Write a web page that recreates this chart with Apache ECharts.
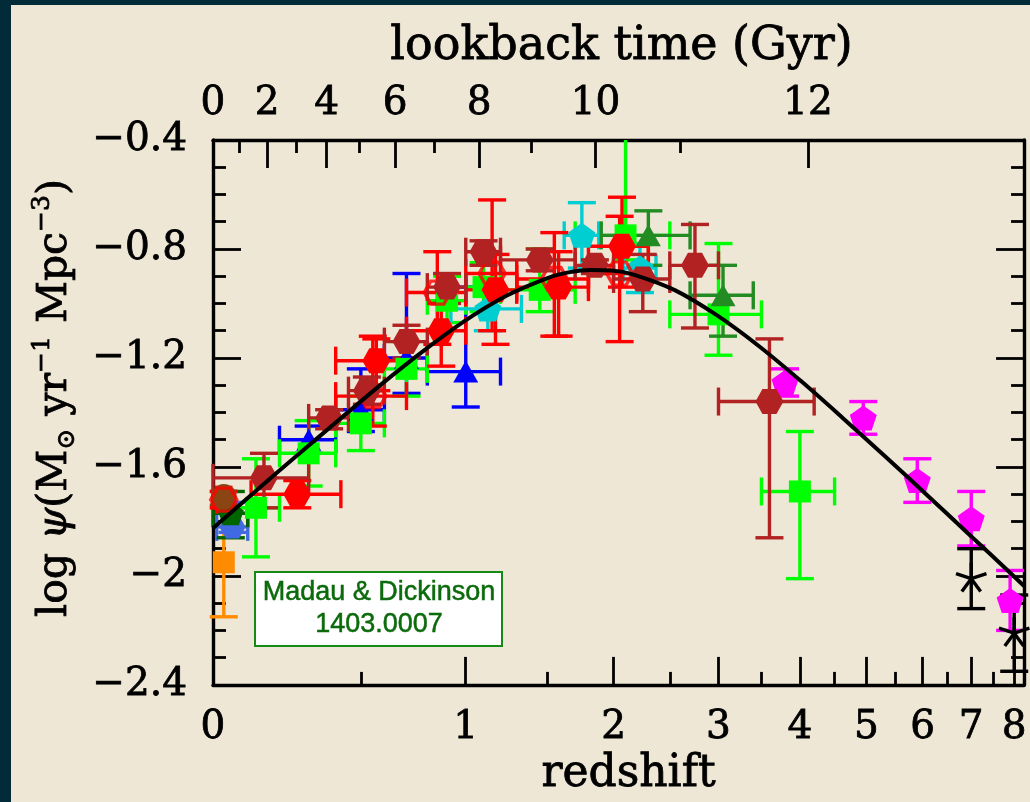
<!DOCTYPE html>
<html>
<head>
<meta charset="utf-8">
<script src="https://cdn.jsdelivr.net/npm/echarts@6/dist/echarts.min.js"></script>
<style>
  html, body { margin: 0; padding: 0; background: #EEE7D6; }
  #chart { width: 1030px; height: 802px; }
</style>
</head>
<body>
<div id="chart"></div>
<script>
// Each row: [z, zLow, zHigh, log psi, errUp, errDown]
const wyder = [[0.055, 0.01, 0.1, -1.82, 0.09, 0.02]];
const robothamDriver = [[0.05, 0.0, 0.1, -1.77, 0.08, 0.09]];
const schiminovich = [
  [0.3, 0.2, 0.4, -1.50, 0.05, 0.05],
  [0.5, 0.4, 0.6, -1.39, 0.15, 0.08],
  [0.7, 0.6, 0.8, -1.20, 0.31, 0.13],
  [1.0, 0.8, 1.2, -1.25, 0.31, 0.13]
];
const cucciati = [
  [0.125, 0.05, 0.2, -1.75, 0.18, 0.18],
  [0.3, 0.2, 0.4, -1.55, 0.12, 0.12],
  [0.5, 0.4, 0.6, -1.44, 0.10, 0.10],
  [0.7, 0.6, 0.8, -1.24, 0.10, 0.10],
  [0.9, 0.8, 1.0, -0.99, 0.09, 0.08],
  [1.1, 1.0, 1.2, -0.94, 0.09, 0.09],
  [1.45, 1.2, 1.7, -0.95, 0.15, 0.08],
  [2.1, 1.7, 2.5, -0.75, 0.49, 0.09],
  [3.0, 2.5, 3.5, -1.04, 0.26, 0.15],
  [4.0, 3.5, 4.5, -1.69, 0.22, 0.32]
];
const dahlen = [
  [1.125, 0.92, 1.33, -1.02, 0.08, 0.08],
  [1.75, 1.62, 1.88, -0.75, 0.12, 0.12],
  [2.225, 2.08, 2.37, -0.87, 0.09, 0.09]
];
const reddySteidel = [
  [2.3, 1.9, 2.7, -0.75, 0.09, 0.11],
  [3.05, 2.7, 3.4, -0.97, 0.11, 0.15]
];
const bouwens = [
  [3.8, 3.8, 3.8, -1.29, 0.05, 0.05],
  [4.95, 4.95, 4.95, -1.42, 0.06, 0.06],
  [5.9, 5.9, 5.9, -1.65, 0.08, 0.08],
  [7.0, 7.0, 7.0, -1.79, 0.10, 0.10],
  [7.9, 7.9, 7.9, -2.09, 0.11, 0.11]
];
const schenker = [
  [7.0, 7.0, 7.0, -2.01, 0.11, 0.11],
  [8.0, 8.0, 8.0, -2.21, 0.14, 0.14]
];
const sanders = [[0.03, 0.03, 0.03, -1.71, 0.02, 0.03]];
const takeuchi = [[0.03, 0.03, 0.03, -1.95, 0.20, 0.20]];
const magnelli11 = [
  [0.03, 0.01, 0.05, -1.72, 0.03, 0.03],
  [0.55, 0.4, 0.7, -1.34, 0.22, 0.11],
  [0.85, 0.7, 1.0, -0.96, 0.15, 0.19],
  [1.15, 1.0, 1.3, -0.89, 0.27, 0.21],
  [1.55, 1.3, 1.8, -0.91, 0.17, 0.21],
  [2.05, 1.8, 2.3, -0.89, 0.21, 0.25]
];
const magnelli13 = [
  [0.26, 0.11, 0.42, -1.70, 0.05, 0.05],
  [0.565, 0.4, 0.7, -1.21, 0.08, 0.11],
  [0.87, 0.7, 1.0, -1.10, 0.10, 0.13],
  [1.17, 1.0, 1.3, -0.95, 0.13, 0.20],
  [1.58, 1.3, 1.8, -0.94, 0.13, 0.18],
  [2.07, 1.8, 2.3, -0.79, 0.18, 0.15]
];
const gruppioni = [
  [0.15, 0.0, 0.3, -1.64, 0.09, 0.11],
  [0.375, 0.3, 0.45, -1.42, 0.03, 0.04],
  [0.525, 0.45, 0.6, -1.32, 0.05, 0.05],
  [0.7, 0.6, 0.8, -1.14, 0.06, 0.06],
  [0.9, 0.8, 1.0, -0.94, 0.05, 0.06],
  [1.1, 1.0, 1.2, -0.81, 0.04, 0.05],
  [1.45, 1.2, 1.7, -0.84, 0.04, 0.04],
  [1.85, 1.7, 2.0, -0.86, 0.02, 0.03],
  [2.25, 2.0, 2.5, -0.91, 0.09, 0.12],
  [2.75, 2.5, 3.0, -0.86, 0.15, 0.23],
  [3.6, 3.0, 4.2, -1.36, 0.23, 0.50]
];

// Best-fit cosmic star-formation history: [z, log psi]
const fitCurve = [
  [0, -1.825], [0.122, -1.691], [0.259, -1.558], [0.413, -1.427], [0.585, -1.298],
  [0.778, -1.176], [0.995, -1.064], [1.239, -0.971], [1.512, -0.905], [1.660, -0.885],
  [1.818, -0.877], [1.985, -0.879], [2.162, -0.893], [2.548, -0.951], [2.981, -1.043],
  [3.467, -1.156], [4.012, -1.284], [4.623, -1.420], [5.310, -1.560], [6.079, -1.702],
  [6.943, -1.846], [7.913, -1.990], [8.247, -2.037]
];

// Axis ticks
const redshiftMajor = [0, 1, 2, 3, 4, 5, 6, 7, 8];
const redshiftMinor = [0.5, 1.5, 2.5, 3.5, 4.5, 5.5, 6.5, 7.5];
const lookbackMajor = [0, 2, 4, 6, 8, 10, 12];
const lookbackMinor = [1, 3, 5, 7, 9, 11];

const Y_MIN = -2.4, Y_MAX = -0.4;
const U_MAX = 0.966;               // log10(1+z) at the right edge
const U = z => Math.log10(1 + z);

// Lookback time (Gyr) for flat LCDM, H0 = 70, Om = 0.3
const H0 = 70, OM = 0.3, OL = 0.7, T_H = 977.8 / H0;
function lookback(z) {
  const n = 400, h = z / n;
  const f = x => 1 / ((1 + x) * Math.sqrt(OM * Math.pow(1 + x, 3) + OL));
  let s = f(0) + f(z);
  for (let i = 1; i < n; i++) s += (i % 2 ? 4 : 2) * f(i * h);
  return T_H * s * h / 3;
}
function zAtLookback(t) {
  if (t <= 0) return 0;
  let lo = 0, hi = 30;
  for (let k = 0; k < 60; k++) {
    const mid = 0.5 * (lo + hi);
    if (lookback(mid) < t) lo = mid; else hi = mid;
  }
  return 0.5 * (lo + hi);
}
const lookMajorU = lookbackMajor.map(t => U(zAtLookback(t)));
const lookMinorU = lookbackMinor.map(t => U(zAtLookback(t)));

const SERIF = '"DejaVu Serif", serif';
const TICK_W = 2.8;
const BAR_W = 3.4;

function errorBars(rows, color) {
  return {
    type: 'custom',
    silent: true,
    animation: false,
    data: rows.map(r => [U(r[0]), r[3], U(r[1]), U(r[2]), r[3] - r[5], r[3] + r[4]]),
    encode: { x: 0, y: 1 },
    renderItem: (params, api) => {
      const x = api.value(0), y = api.value(1);
      const c = api.coord([x, y]);
      const vLo = api.value(4), vHi = api.value(5);
      const lo = api.coord([x, Math.max(vLo, Y_MIN)]);
      const hi = api.coord([x, Math.min(vHi, Y_MAX)]);
      const l = api.coord([api.value(2), y]);
      const r = api.coord([api.value(3), y]);
      const st = { stroke: color, lineWidth: BAR_W };
      const cap = 14;
      const ch = [];
      ch.push({ type: 'line', shape: { x1: c[0], y1: lo[1], x2: c[0], y2: hi[1] }, style: st });
      if (vHi <= Y_MAX) ch.push({ type: 'line', shape: { x1: c[0] - cap, y1: hi[1], x2: c[0] + cap, y2: hi[1] }, style: st });
      if (vLo >= Y_MIN) ch.push({ type: 'line', shape: { x1: c[0] - cap, y1: lo[1], x2: c[0] + cap, y2: lo[1] }, style: st });
      if (r[0] - l[0] > 2) {
        ch.push({ type: 'line', shape: { x1: l[0], y1: c[1], x2: r[0], y2: c[1] }, style: st });
        ch.push({ type: 'line', shape: { x1: l[0], y1: c[1] - cap, x2: l[0], y2: c[1] + cap }, style: st });
        ch.push({ type: 'line', shape: { x1: r[0], y1: c[1] - cap, x2: r[0], y2: c[1] + cap }, style: st });
      }
      return { type: 'group', children: ch };
    }
  };
}

const HEX = 'path://M-1,0 L-0.5,-0.866 L0.5,-0.866 L1,0 L0.5,0.866 L-0.5,0.866 Z';
const PENT = 'path://M0,-1 L0.951,-0.309 L0.588,0.809 L-0.588,0.809 L-0.951,-0.309 Z';
const TRI = 'path://M0,-1 L0.866,0.5 L-0.866,0.5 Z';

function markers(rows, symbol, size, color, open) {
  return {
    type: 'scatter',
    silent: true,
    animation: false,
    symbol: symbol,
    symbolSize: size,
    data: rows.map(r => [U(r[0]), r[3]]),
    itemStyle: open
      ? { color: 'rgba(0,0,0,0)', borderColor: color, borderWidth: 3.4 }
      : { color: color, opacity: 1 }
  };
}

function asterisks(rows, color) {
  return {
    type: 'custom',
    silent: true,
    animation: false,
    data: rows.map(r => [U(r[0]), r[3]]),
    encode: { x: 0, y: 1 },
    renderItem: (params, api) => {
      const c = api.coord([api.value(0), api.value(1)]);
      const len = 16, ch = [];
      for (let k = 0; k < 5; k++) {
        const a = (90 + 72 * k) * Math.PI / 180;
        ch.push({ type: 'line', shape: { x1: c[0], y1: c[1], x2: c[0] + len * Math.cos(a), y2: c[1] - len * Math.sin(a) },
                  style: { stroke: color, lineWidth: BAR_W } });
      }
      return { type: 'group', children: ch };
    }
  };
}

const series = [
  errorBars(takeuchi, '#FF8C00'), markers(takeuchi, 'rect', [22, 22], '#FF8C00'),
  errorBars(wyder, '#4169E1'), markers(wyder, HEX, [26, 23], '#4169E1'),
  errorBars(robothamDriver, '#006400'), markers(robothamDriver, PENT, [26, 24], '#006400'),
  errorBars(sanders, '#8B4513'), markers(sanders, 'circle', 26, '#8B4513'),
  errorBars(schiminovich, '#0000FF'), markers(schiminovich, TRI, [25, 22], '#0000FF'),
  errorBars(cucciati, '#00FF00'), markers(cucciati, 'rect', [22, 22], '#00FF00'),
  errorBars(dahlen, '#00CED1'), markers(dahlen, PENT, [27, 25], '#00CED1'),
  errorBars(reddySteidel, '#228B22'), markers(reddySteidel, TRI, [25, 22], '#228B22'),
  errorBars(bouwens, '#FF00FF'), markers(bouwens, PENT, [27, 25], '#FF00FF'),
  errorBars(schenker, '#000000'), asterisks(schenker, '#000000'),
  errorBars(magnelli11, '#FF0000'), markers(magnelli11, HEX, [26, 23], '#FF0000', true),
  errorBars(magnelli13, '#FF0000'), markers(magnelli13, HEX, [28, 25], '#FF0000'),
  errorBars(gruppioni, '#B22222'), markers(gruppioni, HEX, [28, 25], '#B22222'),
  {
    type: 'line',
    silent: true,
    animation: false,
    showSymbol: false,
    smooth: 0.35,
    data: fitCurve.map(p => [U(p[0]), p[1]]),
    lineStyle: { color: '#000000', width: 4 },
    z: 5
  }
];

const axisLine = { show: true, onZero: false, lineStyle: { color: '#000', width: 3.4 } };
const labelFont = { color: '#000', fontFamily: SERIF, fontSize: 39, textBorderColor: '#000', textBorderWidth: 0.8 };

function xAx(pos, ticks, len, labels, margin) {
  return {
    type: 'value', position: pos, min: 0, max: U_MAX,
    axisLine: labels ? axisLine : { show: false },
    splitLine: { show: false },
    axisTick: { show: true, inside: true, length: len, customValues: ticks, lineStyle: { color: '#000', width: TICK_W } },
    axisLabel: labels ? Object.assign({ show: true, customValues: ticks, formatter: labels, margin: margin }, labelFont)
                      : { show: false }
  };
}

const xAxes = [
  xAx('bottom', redshiftMajor.map(U), 28, v => {
    const i = redshiftMajor.findIndex(z => Math.abs(U(z) - v) < 1e-6);
    return i >= 0 ? String(redshiftMajor[i]) : '';
  }, 23),
  xAx('bottom', redshiftMinor.map(U), 13, null),
  xAx('top', lookMajorU, 28, v => {
    const i = lookMajorU.findIndex(u => Math.abs(u - v) < 1e-6);
    return i >= 0 ? String(lookbackMajor[i]) : '';
  }, 17),
  xAx('top', lookMinorU, 13, null)
];
Object.assign(xAxes[0], {
  name: 'redshift', nameLocation: 'middle', nameGap: 64,
  nameTextStyle: { color: '#000', fontFamily: SERIF, fontSize: 44, textBorderColor: '#000', textBorderWidth: 0.8,
                   padding: [0, 0, 0, 20] }
});
Object.assign(xAxes[2], {
  name: 'lookback time (Gyr)', nameLocation: 'middle', nameGap: 70,
  nameTextStyle: { color: '#000', fontFamily: SERIF, fontSize: 46, textBorderColor: '#000', textBorderWidth: 0.8,
                   padding: [0, 0, 0, 6] }
});

function yAx(pos, labels) {
  return {
    type: 'value', position: pos, min: Y_MIN, max: Y_MAX, interval: 0.4,
    axisLine: axisLine,
    splitLine: { show: false },
    axisTick: { show: true, inside: true, length: 28, lineStyle: { color: '#000', width: TICK_W } },
    minorTick: { show: true, splitNumber: 4, length: 13, lineStyle: { color: '#000', width: TICK_W } },
    minorSplitLine: { show: false },
    axisLabel: labels
      ? Object.assign({ show: true, margin: 26,
          formatter: v => String(Math.round(v * 10) / 10).replace('-', '\u2212') }, labelFont)
      : { show: false }
  };
}

const titleRich = { fontFamily: SERIF, fill: '#000', lineHeight: 50, stroke: '#000', lineWidth: 0.8 };
const chart = echarts.init(document.getElementById('chart'), null, { renderer: 'canvas' });
chart.setOption({
  backgroundColor: '#EEE7D6',
  animation: false,
  grid: { left: 213, right: 2, top: 140, bottom: 116, containLabel: false },
  xAxis: xAxes,
  yAxis: [yAx('left', true), yAx('right', false)],
  series: series.map(s => Object.assign({ xAxisIndex: 0, yAxisIndex: 0 }, s)),
  graphic: [
    { type: 'rect', z: 100, shape: { x: 0, y: 0, width: 11, height: 802 }, style: { fill: '#022B3A' } },
    { type: 'rect', z: 100, shape: { x: 0, y: 0, width: 1030, height: 5 }, style: { fill: '#022B3A' } },
    {
      type: 'text', z: 50, x: 55, y: 398, rotation: Math.PI / 2,
      style: {
        text: '{t|log }{p|\u03C8}{t|(M}{s|\u2299}{t| yr}{u|\u22121}{t| Mpc}{u|\u22123}{t|)}',
        align: 'center', verticalAlign: 'middle',
        rich: {
          t: Object.assign({ fontSize: 41, verticalAlign: 'middle' }, titleRich),
          p: Object.assign({ fontSize: 41, fontStyle: 'italic', verticalAlign: 'middle' }, titleRich),
          s: Object.assign({ fontSize: 25, verticalAlign: 'bottom' }, titleRich),
          u: Object.assign({ fontSize: 25, verticalAlign: 'top' }, titleRich)
        }
      }
    },
    { type: 'rect', z: 50, shape: { x: 255, y: 572, width: 247, height: 74 },
      style: { fill: '#FFFFFF', stroke: '#168A16', lineWidth: 2 } },
    { type: 'text', z: 51, x: 379, y: 593,
      style: { text: 'Madau & Dickinson', fill: '#0B6A0B', fontFamily: '"Liberation Sans", Arial, sans-serif',
               fontSize: 27, align: 'center', verticalAlign: 'middle', stroke: '#0B6A0B', lineWidth: 0.5 } },
    { type: 'text', z: 51, x: 379, y: 625,
      style: { text: '1403.0007', fill: '#0B6A0B', fontFamily: '"Liberation Sans", Arial, sans-serif',
               fontSize: 27, align: 'center', verticalAlign: 'middle', stroke: '#0B6A0B', lineWidth: 0.5 } }
  ]
});
</script>
</body>
</html>
